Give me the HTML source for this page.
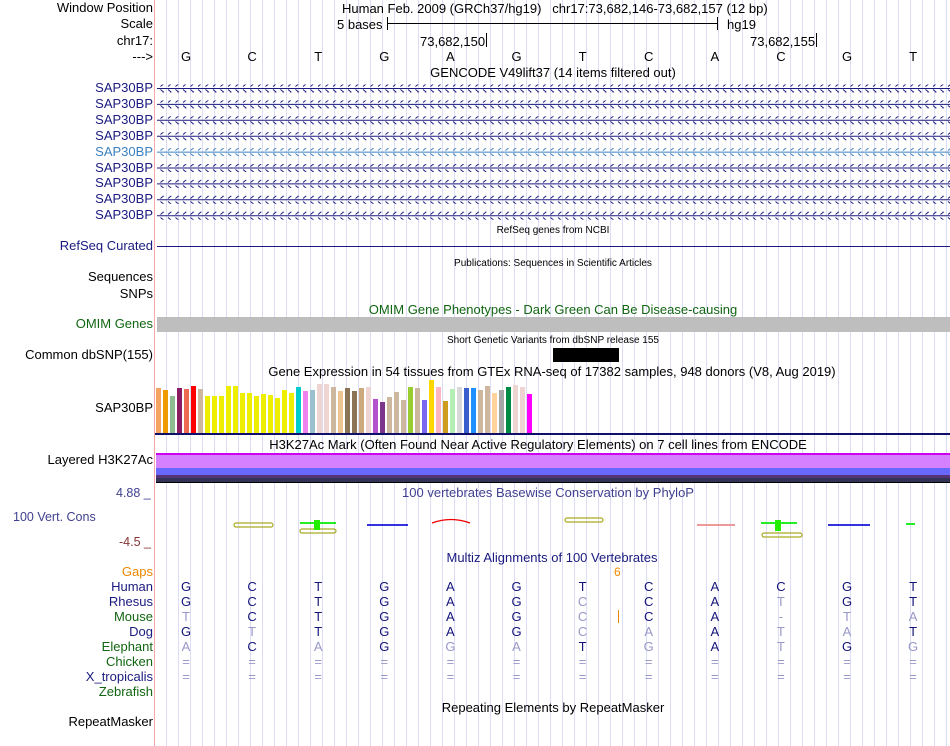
<!DOCTYPE html>
<html><head><meta charset="utf-8">
<style>
body{margin:0;width:950px;height:746px;overflow:hidden;background:#fff;font-family:"Liberation Sans",sans-serif;position:relative}
.a{position:absolute;white-space:nowrap}
.l{position:absolute;right:797px;font-size:13px;line-height:14px;white-space:nowrap;text-align:right}
.c{position:absolute;font-size:13px;line-height:14px;white-space:nowrap;transform:translateX(-50%)}
#grid{position:absolute;left:155px;top:0;width:795px;height:746px;background:repeating-linear-gradient(to right,transparent 0,transparent 11px,#dcdcf6 11px,#dcdcf6 12px)}
#pink{position:absolute;left:154px;top:0;width:1px;height:746px;background:#f4a8a8}
</style></head><body>
<div id="grid"></div>
<div id="pink"></div>

<div class="l" style="top:1px;color:#000">Window Position</div>
<div class="l" style="top:17px;color:#000">Scale</div>
<div class="l" style="top:34px;color:#000">chr17:</div>
<div class="l" style="top:50px;color:#000">---&gt;</div>
<div class="a" style="left:342px;top:1px;font-size:13px">Human Feb. 2009 (GRCh37/hg19)&nbsp;&nbsp;&nbsp;chr17:73,682,146-73,682,157 (12 bp)</div>
<div class="a" style="left:337px;top:17px;font-size:13px">5 bases</div>
<div class="a" style="left:387px;top:23px;width:330px;height:1px;background:#000"></div>
<div class="a" style="left:387px;top:17px;width:1px;height:13px;background:#000"></div>
<div class="a" style="left:717px;top:17px;width:1px;height:13px;background:#000"></div>
<div class="a" style="left:727px;top:17px;font-size:13px">hg19</div>
<div class="a" style="left:420px;top:34px;font-size:13px">73,682,150</div>
<div class="a" style="left:486px;top:33px;width:1px;height:14px;background:#000"></div>
<div class="a" style="left:750px;top:34px;font-size:13px">73,682,155</div>
<div class="a" style="left:816px;top:33px;width:1px;height:14px;background:#000"></div>
<div id="bases"></div>
<div class="c" style="left:553px;top:66px">GENCODE V49lift37 (14 items filtered out)</div>

<svg class="a" style="left:0;top:0" width="950" height="746" id="svg">
<defs>
<pattern id="chev" width="7.5" height="8" patternUnits="userSpaceOnUse" x="158" y="0"><path d="M2.5,1.5 L5.5,4 L2.5,6.5" fill="none" stroke="#1a1a80" stroke-width="1"/></pattern>
<pattern id="chev2" width="7.5" height="8" patternUnits="userSpaceOnUse" x="158" y="0"><path d="M2.5,1.5 L5.5,4 L2.5,6.5" fill="none" stroke="#3a80c0" stroke-width="1"/></pattern>
</defs>
</svg>

<div class="c" style="left:553px;top:224px;font-size:10px">RefSeq genes from NCBI</div>
<div class="l" style="top:239px;color:#1a1a80">RefSeq Curated</div>
<div class="a" style="left:157px;top:246px;width:793px;height:1px;background:#1a1a80"></div>
<div class="c" style="left:553px;top:257px;font-size:10px">Publications: Sequences in Scientific Articles</div>
<div class="l" style="top:270px;color:#000">Sequences</div>
<div class="l" style="top:287px;color:#000">SNPs</div>
<div class="c" style="left:553px;top:303px;color:#116611">OMIM Gene Phenotypes - Dark Green Can Be Disease-causing</div>
<div class="l" style="top:317px;color:#116611">OMIM Genes</div>
<div class="a" style="left:157px;top:317px;width:793px;height:15px;background:#bebebe"></div>
<div class="c" style="left:553px;top:334px;font-size:10px">Short Genetic Variants from dbSNP release 155</div>
<div class="l" style="top:348px;color:#000">Common dbSNP(155)</div>
<div class="a" style="left:553px;top:348px;width:66px;height:14px;background:#000"></div>
<div class="c" style="left:552px;top:365px">Gene Expression in 54 tissues from GTEx RNA-seq of 17382 samples, 948 donors (V8, Aug 2019)</div>
<div class="l" style="top:401px;color:#000">SAP30BP</div>
<div class="a" style="left:155px;top:433px;width:795px;height:2px;background:#10106a"></div>
<div class="c" style="left:538px;top:438px">H3K27Ac Mark (Often Found Near Active Regulatory Elements) on 7 cell lines from ENCODE</div>
<div class="l" style="top:453px;color:#000">Layered H3K27Ac</div>
<div class="a" style="left:156px;top:453px;width:794px;height:2px;background:#cc00ee"></div>
<div class="a" style="left:156px;top:455px;width:794px;height:13px;background:#d580ff"></div>
<div class="a" style="left:156px;top:468px;width:794px;height:7px;background:#6868ff"></div>
<div class="a" style="left:156px;top:475px;width:794px;height:3px;background:#553377"></div>
<div class="a" style="left:156px;top:478px;width:794px;height:4px;background:#333355"></div>
<div class="a" style="left:156px;top:482px;width:794px;height:1px;background:#000"></div>
<div class="a" style="left:116px;top:486px;font-size:12.5px;color:#404090">4.88 _</div>
<div class="c" style="left:548px;top:486px;color:#404090">100 vertebrates Basewise Conservation by PhyloP</div>
<div class="a" style="left:13px;top:510px;font-size:12.5px;color:#404090">100 Vert. Cons</div>
<div class="a" style="left:119px;top:535px;font-size:12.5px;color:#883333">-4.5 _</div>
<div class="c" style="left:552px;top:551px;color:#1a1a80">Multiz Alignments of 100 Vertebrates</div>
<div class="l" style="top:565px;color:#ee8800">Gaps</div>
<div class="a" style="left:614px;top:565px;font-size:12px;color:#ee8800">6</div>
<div class="a" style="left:618px;top:610px;width:1px;height:13px;background:#ee8800"></div>
<div id="species"></div>
<div class="c" style="left:553px;top:701px">Repeating Elements by RepeatMasker</div>
<div class="l" style="top:715px;color:#000">RepeatMasker</div>

<script>
const bases=["G","C","T","G","A","G","T","C","A","C","G","T"];
const gtexValues=[45,43,37,45,44,47,44,37,37,37,47,47,40,40,37,39,38,35,43,40,46,42,43,49,49,46,42,45,42,45,46,34,31,36,41,33,46,45,33,53,46,32,44,46,45,45,43,47,40,43,46,48,46,39];
const gtexColors=["#f4a460","#ee9a00","#8fbc8f","#8b1c62","#ee6a50","#ff0000","#cdb79e","#eeee00","#eeee00","#eeee00","#eeee00","#eeee00","#eeee00","#eeee00","#eeee00","#eeee00","#eeee00","#eeee00","#eeee00","#eeee00","#00cdcd","#ee82ee","#9ac0cd","#eed5d2","#eed5d2","#cdb79e","#eec591","#8b7355","#8b7355","#cdaa7d","#eed5d2","#b452cd","#7a378b","#cdb79e","#cdb79e","#cdb79e","#9acd32","#cdb79e","#7b68ee","#ffd700","#ffb6c1","#cd9b1d","#b4eeb4","#d9d9d9","#3a5fcd","#1e90ff","#cdb79e","#cdb79e","#ffd39b","#a6a6a6","#008b45","#eed5d2","#eed5d2","#ff00ff"];
const species=["Human","Rhesus","Mouse","Dog","Elephant","Chicken","X_tropicalis","Zebrafish"];
const speciesColors=["#1a1a80","#1a1a80","#116611","#1a1a80","#116611","#116611","#1a1a80","#116611"];
const alignments=["GCTGAGTCACGT","GCTGAGcCAtGT","tCTGAGcCA-ta","GtTGAGcaAtaT","aCaGgaTgAtGg","============","============",""];
const geneRows=9;

const bx=i=>186+66.1*i;
const NS="http://www.w3.org/2000/svg";
const svg=document.getElementById('svg');
const bd=document.getElementById('bases');
bases.forEach((b,i)=>{const d=document.createElement('div');d.className='c';d.style.left=bx(i)+'px';d.style.top='50px';d.textContent=b;


bd.appendChild(d);});

for(let r=0;r<geneRows;r++){
 const y=88+15.9*r;
 const lab=document.createElement('div');lab.className='l';lab.style.top=(y-7)+'px';lab.style.color=r===4?'#3a80c0':'#1a1a80';lab.textContent='SAP30BP';
 
 
 document.body.appendChild(lab);
 const ln=document.createElementNS(NS,'line');ln.setAttribute('x1',157);ln.setAttribute('x2',950);ln.setAttribute('y1',y+0.5);ln.setAttribute('y2',y+0.5);ln.setAttribute('stroke',r===4?'#3a80c0':'#1a1a80');
 
 
 svg.appendChild(ln);
 const ch=document.createElementNS(NS,'rect');ch.setAttribute('x',157);ch.setAttribute('y',y-3.5);ch.setAttribute('width',793);ch.setAttribute('height',8);ch.setAttribute('fill',r===4?'url(#chev2)':'url(#chev)');
 
 
 svg.appendChild(ch);
}

const base0=433, scaleH=1.0;
gtexValues.forEach((v,i)=>{const r=document.createElementNS(NS,'rect');const h=v*scaleH;
 r.setAttribute('x',156+7*i);r.setAttribute('y',base0-h);r.setAttribute('width',5);r.setAttribute('height',h);r.setAttribute('fill',gtexColors[i]);
 
 
 svg.appendChild(r);});

const cons=[
 ['olive',234,273,525],['green',300,336,523],['olive',300,336,531],['blue',367,408,525],['red',432,470,522],['olive',565,603,520],['pink',697,735,525],['green',761,797,523],['olive',762,802,535],['blue',828,870,525],['green',906,915,524]];
cons.forEach((c,i)=>{let el;const [t,x1,x2,y]=c;
 if(t==='olive'){el=document.createElementNS(NS,'rect');el.setAttribute('x',x1);el.setAttribute('y',y-2);el.setAttribute('width',x2-x1);el.setAttribute('height',4);el.setAttribute('rx',2);el.setAttribute('fill','none');el.setAttribute('stroke','#aaaa22');el.setAttribute('stroke-width','1.2');}
 else if(t==='red'){el=document.createElementNS(NS,'path');el.setAttribute('d',`M${x1},${y+1} Q${(x1+x2)/2},${y-6} ${x2},${y+1}`);el.setAttribute('fill','none');el.setAttribute('stroke','#ee0000');el.setAttribute('stroke-width','1.2');}
 else {el=document.createElementNS(NS,'rect');el.setAttribute('x',x1);el.setAttribute('y',y-1);el.setAttribute('width',x2-x1);el.setAttribute('height',2);el.setAttribute('fill',t==='green'?'#22ee22':t==='blue'?'#3333dd':'#ee9999');}
 
 
 svg.appendChild(el);});
[[314,520,6,10],[775,520,6,11]].forEach((s,i)=>{const r=document.createElementNS(NS,'rect');r.setAttribute('x',s[0]);r.setAttribute('y',s[1]);r.setAttribute('width',s[2]);r.setAttribute('height',s[3]);r.setAttribute('fill','#22ee00');
 
 
 svg.appendChild(r);});

const sp=document.getElementById('species');
species.forEach((s,k)=>{const y=580+15*k;
 const lab=document.createElement('div');lab.className='l';lab.style.top=y+'px';lab.style.color=speciesColors[k];lab.textContent=s;
 
 
 sp.appendChild(lab);
 const row=alignments[k];
 for(let i=0;i<row.length;i++){const ch=row[i];const faint=ch!==ch.toUpperCase()||ch==='='||ch==='-';
  const d=document.createElement('div');d.className='c';d.style.left=bx(i)+'px';d.style.top=y+'px';d.style.color=faint?'#9898c8':'#14147a';d.textContent=ch.toUpperCase();
  
  
  sp.appendChild(d);}
});
</script>
</body></html>
